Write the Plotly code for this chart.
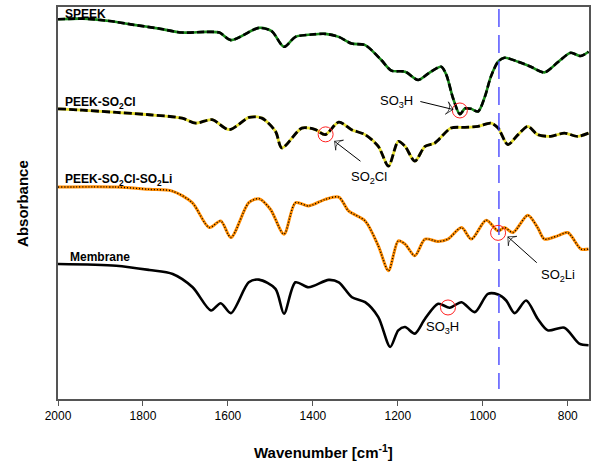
import plotly.graph_objects as go

# FTIR spectra (wavenumber in cm-1, absorbance in a.u., stacked with offsets)
speek_wn = [2000, 1942, 1879, 1825, 1762, 1708, 1651, 1620, 1593, 1527, 1497, 1468, 1441, 1403, 1371,
            1339, 1309, 1277, 1239, 1215, 1183, 1152, 1128, 1098, 1086, 1070, 1054, 1042, 1028, 1011,
            995, 981, 964, 949, 917, 887, 855, 822, 793, 770, 751]
speek_abs = [3.817, 3.823, 3.80, 3.763, 3.723, 3.683, 3.69, 3.683, 3.607, 3.73, 3.697, 3.54, 3.64, 3.663, 3.67,
             3.64, 3.573, 3.557, 3.407, 3.30, 3.29, 3.207, 3.273, 3.34, 3.26, 3.023, 2.863, 2.92, 2.917, 2.89,
             3.04, 3.24, 3.39, 3.43, 3.39, 3.34, 3.283, 3.39, 3.48, 3.447, 3.49]

so2cl_wn = [2000, 1942, 1862, 1785, 1708, 1676, 1637, 1597, 1550, 1520, 1488, 1473, 1426, 1394, 1371,
            1339, 1309, 1277, 1246, 1222, 1199, 1183, 1160, 1136, 1113, 1075, 1042, 1011, 981, 964,
            941, 917, 894, 871, 840, 808, 777, 751]
so2cl_abs = [2.917, 2.903, 2.88, 2.857, 2.823, 2.773, 2.807, 2.707, 2.83, 2.823, 2.69, 2.523, 2.723, 2.707, 2.657,
             2.783, 2.707, 2.657, 2.54, 2.34, 2.59, 2.54, 2.39, 2.54, 2.573, 2.723, 2.73, 2.74, 2.773, 2.723,
             2.557, 2.657, 2.74, 2.657, 2.64, 2.673, 2.64, 2.673]

so2li_wn = [2000, 1863, 1785, 1731, 1684, 1644, 1617, 1593, 1551, 1527, 1500, 1468, 1441, 1410, 1371,
            1339, 1316, 1277, 1246, 1222, 1199, 1183, 1160, 1136, 1105, 1082, 1050, 1027, 992, 964,
            949, 929, 894, 871, 855, 824, 800, 769, 751]
so2li_abs = [2.13, 2.13, 2.107, 2.09, 1.973, 1.723, 1.79, 1.623, 1.973, 2.013, 1.907, 1.657, 1.973, 1.94, 2.007,
             2.03, 1.89, 1.79, 1.54, 1.29, 1.59, 1.557, 1.44, 1.607, 1.583, 1.607, 1.723, 1.607, 1.797, 1.69,
             1.723, 1.673, 1.847, 1.723, 1.607, 1.64, 1.673, 1.507, 1.507]

memb_wn = [2000, 1863, 1785, 1730, 1683, 1640, 1617, 1593, 1551, 1527, 1488, 1468, 1441, 1410, 1363,
           1339, 1308, 1277, 1246, 1218, 1199, 1183, 1160, 1136, 1105, 1078, 1050, 1019, 988, 964,
           945, 925, 898, 871, 847, 808, 773, 751]
memb_abs = [1.357, 1.34, 1.297, 1.257, 1.123, 0.89, 0.963, 0.863, 1.173, 1.20, 1.107, 0.857, 1.173, 1.123, 1.197,
            1.173, 1.023, 0.973, 0.823, 0.523, 0.69, 0.723, 0.657, 0.807, 0.957, 0.917, 0.973, 0.873, 1.057, 1.05,
            0.99, 0.863, 0.99, 0.807, 0.69, 0.717, 0.557, 0.54]

# highlighted bands (wavenumber, absorbance)
mark_wn = [1054, 1370, 964, 1082]
mark_abs = [2.90, 2.66, 1.67, 0.92]

# band labels and their pointer arrows (tail -> head)
band_labels = ["SO<sub>3</sub>H", "SO<sub>2</sub>Cl", "SO<sub>2</sub>Li", "SO<sub>3</sub>H"]
label_wn = [1160, 1269, 823, 1095]
label_abs = [2.99, 2.23, 1.24, 0.72]
arrows = [((1147, 2.99), (1070, 2.91)),
          ((1288, 2.39), (1349, 2.59)),
          ((873, 1.37), (941, 1.63))]

x_ticks = [2000, 1800, 1600, 1400, 1200, 1000, 800]
ref_line_wn = 962

FONT = "Liberation Sans, Arial, sans-serif"

fig = go.Figure()

def add_line(x, y, color, width, dash="solid"):
    fig.add_trace(go.Scatter(x=x, y=y, mode="lines", showlegend=False, hoverinfo="skip",
                             line=dict(color=color, width=width, dash=dash,
                                       shape="spline", smoothing=0.8)))

# SPEEK: green with black dashes
add_line(speek_wn, speek_abs, "#1a8a1a", 2.6)
add_line(speek_wn, speek_abs, "black", 2.6, "7px,3px")
# PEEK-SO2Cl: yellow with black dashes
add_line(so2cl_wn, so2cl_abs, "#e8e030", 2.8)
add_line(so2cl_wn, so2cl_abs, "black", 2.8, "8px,3px")
# PEEK-SO2Cl-SO2Li: orange with black dots
add_line(so2li_wn, so2li_abs, "#ff8c00", 3.0)
add_line(so2li_wn, so2li_abs, "black", 1.4, "1px,2px")
# Membrane: black
add_line(memb_wn, memb_abs, "black", 2.6)

# reference line for the SO2Li band
fig.add_trace(go.Scatter(x=[ref_line_wn, ref_line_wn], y=[3.92, 0.10], mode="lines",
                         showlegend=False, hoverinfo="skip",
                         line=dict(color="#3a3aff", width=1.3, dash="18px,8px")))

# red circles on characteristic bands
fig.add_trace(go.Scatter(x=mark_wn, y=mark_abs, mode="markers", showlegend=False, hoverinfo="skip",
                         marker=dict(symbol="circle-open", size=15, color="#ff2020",
                                     line=dict(width=1))))

# pointer arrows
for (tx, ty), (hx, hy) in arrows:
    fig.add_trace(go.Scatter(x=[tx, hx], y=[ty, hy], mode="lines+markers", showlegend=False,
                             hoverinfo="skip", line=dict(color="black", width=1),
                             marker=dict(symbol="arrow-wide-open", size=[0, 9], angleref="previous",
                                         standoff=0, color="black", line=dict(width=1, color="black"))))

annotations = [
    dict(x=0.01, y=3.87, xref="paper", yref="y", text="<b>SPEEK</b>", xanchor="left", yanchor="middle",
         showarrow=False, font=dict(size=12)),
    dict(x=0.01, y=2.98, xref="paper", yref="y", text="<b>PEEK-SO<sub>2</sub>Cl</b>", xanchor="left",
         yanchor="middle", showarrow=False, font=dict(size=12)),
    dict(x=0.01, y=2.20, xref="paper", yref="y", text="<b>PEEK-SO<sub>2</sub>Cl-SO<sub>2</sub>Li</b>",
         xanchor="left", yanchor="middle", showarrow=False, font=dict(size=12)),
    dict(x=0.018, y=1.43, xref="paper", yref="y", text="<b>Membrane</b>", xanchor="left",
         yanchor="middle", showarrow=False, font=dict(size=12)),
    # axis titles
    dict(x=0.5, y=-0.135, xref="paper", yref="paper", text="<b>Wavenumber [cm<sup>-1</sup>]</b>",
         showarrow=False, xanchor="center", yanchor="middle", font=dict(size=15)),
    dict(x=-0.068, y=0.50, xref="paper", yref="paper", text="<b>Absorbance</b>", textangle=-90,
         showarrow=False, xanchor="center", yanchor="middle", font=dict(size=15)),
]
for i, (txt, lx, ly) in enumerate(zip(band_labels, label_wn, label_abs)):
    annotations.append(dict(x=lx, y=ly, text=txt, showarrow=False,
                            xanchor="right" if i == 0 else "center", yanchor="middle",
                            font=dict(size=13)))

fig.update_layout(
    width=596, height=471,
    margin=dict(l=58, r=5, t=5, b=72),
    paper_bgcolor="white", plot_bgcolor="white",
    font=dict(family=FONT, color="black", size=12),
    annotations=annotations,
    xaxis=dict(range=[2000, 750], tickvals=x_ticks, ticks="outside", ticklen=5, tickwidth=1,
               tickcolor="#555", showline=True, linecolor="#555", linewidth=1.5, mirror=True,
               showgrid=False, zeroline=False, tickfont=dict(size=12)),
    yaxis=dict(range=[0, 3.94], showticklabels=False, ticks="", showline=True, linecolor="#555",
               linewidth=1.5, mirror=True, showgrid=False, zeroline=False),
)

fig.write_html("out.html")
